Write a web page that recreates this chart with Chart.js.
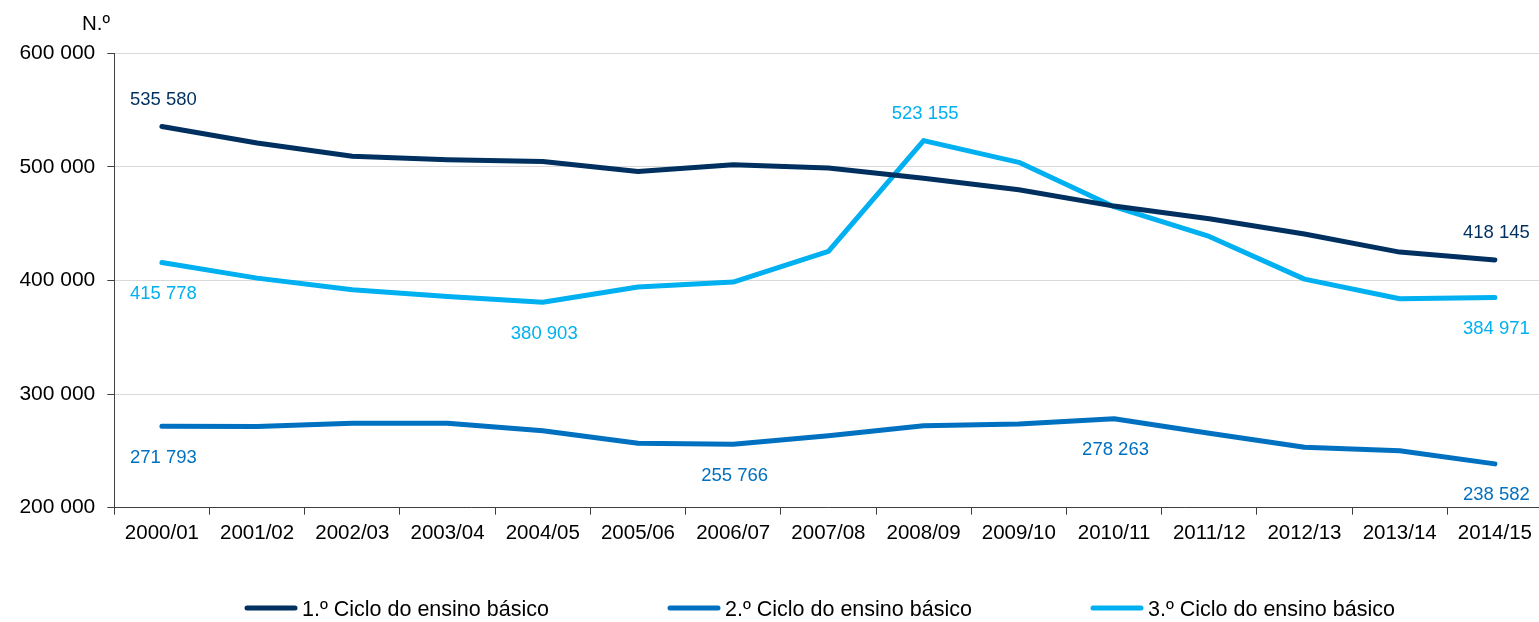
<!DOCTYPE html>
<html>
<head>
<meta charset="utf-8">
<script src="https://cdn.jsdelivr.net/npm/chart.js@4/dist/chart.umd.min.js"></script>
<style>
  html, body { margin: 0; padding: 0; background: #fff; overflow: hidden; }
  #wrap { width: 1545px; height: 622px; }
</style>
</head>
<body>
<div id="wrap"><canvas id="c" width="1545" height="622"></canvas></div>
<script>
const categories = ['2000/01','2001/02','2002/03','2003/04','2004/05','2005/06','2006/07','2007/08','2008/09','2009/10','2010/11','2011/12','2012/13','2013/14','2014/15'];
const ciclo1 = [535580, 521100, 509300, 506300, 504800, 496000, 501900, 499000, 490000, 479900, 465500, 454400, 440900, 425000, 418145];
const ciclo2 = [271793, 271400, 274400, 274400, 267800, 256700, 255766, 263400, 272200, 273700, 278263, 265500, 253200, 250200, 238582];
const ciclo3 = [415778, 402100, 391800, 386000, 380903, 394200, 398600, 425600, 523155, 504000, 465000, 438800, 401200, 383900, 384971];
const seriesNames = ['1.º Ciclo do ensino básico', '2.º Ciclo do ensino básico', '3.º Ciclo do ensino básico'];
const yTicks = [200000, 300000, 400000, 500000, 600000];
// labelled points: [index, 'above'|'below']
const labels1 = [[0,'above'],[14,'above']];
const labels2 = [[0,'below'],[6,'below'],[10,'below'],[14,'below']];
const labels3 = [[0,'below'],[4,'below'],[8,'above'],[14,'below']];

const colors = ['#00305F', '#0070C0', '#00B0F0'];
const FONT = '"Liberation Sans", Arial, sans-serif';

function fmt(v) {
  return String(Math.round(v)).replace(/\B(?=(\d{3})+(?!\d))/g, ' ');
}

const labelPlugin = {
  id: 'pointLabels',
  afterDatasetsDraw(chart) {
    const ctx = chart.ctx;
    const specs = [labels1, labels2, labels3];
    ctx.save();
    ctx.font = '18.5px ' + FONT;
    ctx.textAlign = 'center';
    ctx.textBaseline = 'alphabetic';
    specs.forEach((spec, di) => {
      const meta = chart.getDatasetMeta(di);
      const data = chart.data.datasets[di].data;
      ctx.fillStyle = colors[di];
      spec.forEach(([idx, pos]) => {
        const pt = meta.data[idx];
        const cy = pos === 'above' ? pt.y - 28.5 : pt.y + 30;
        ctx.fillText(fmt(data[idx]), pt.x + 1.5, cy + 6.6);
      });
    });
    ctx.restore();
  }
};

const extrasPlugin = {
  id: 'extras',
  afterDraw(chart) {
    const ctx = chart.ctx;
    ctx.save();
    // axis unit
    ctx.font = '20.5px ' + FONT;
    ctx.fillStyle = '#000';
    ctx.textAlign = 'left';
    ctx.textBaseline = 'alphabetic';
    ctx.fillText('N.º', 82, 29.5);
    // legend
    const lineLen = 52, gapLine = 5, stride = 423, y = 608;
    ctx.font = '21.5px ' + FONT;
    const ca = chart.chartArea;
    let x = ca.left + 130.7;
    chart.data.datasets.forEach((ds, i) => {
      ctx.strokeStyle = ds.borderColor;
      ctx.lineWidth = 5;
      ctx.lineCap = 'round';
      ctx.beginPath();
      ctx.moveTo(x + 2, y);
      ctx.lineTo(x + lineLen - 2, y);
      ctx.stroke();
      ctx.fillStyle = '#000';
      ctx.textBaseline = 'alphabetic';
      ctx.fillText(ds.label, x + lineLen + gapLine, y + 7.7);
      x += stride;
    });
    ctx.restore();
  }
};

const datasets = [ciclo1, ciclo2, ciclo3].map((d, i) => ({
  label: seriesNames[i],
  data: d,
  borderColor: colors[i],
  backgroundColor: colors[i],
  borderWidth: 5,
  pointRadius: 0,
  pointHoverRadius: 0,
  tension: 0,
  borderCapStyle: 'round',
  borderJoinStyle: 'round',
  fill: false
}));

new Chart(document.getElementById('c'), {
  type: 'line',
  data: { labels: categories, datasets: datasets },
  options: {
    responsive: false,
    animation: false,
    events: [],
    layout: { padding: { left: 0, right: 2.5, top: 53.3, bottom: 0 } },
    plugins: {
      legend: { display: false },
      tooltip: { enabled: false },
      title: { display: false }
    },
    scales: {
      x: {
        offset: true,
        afterFit(scale) { scale.height = 114.3; },
        grid: {
          offset: true,
          drawOnChartArea: false,
          drawTicks: true,
          tickLength: 7,
          tickColor: '#404040',
          color: '#404040'
        },
        border: { display: true, color: '#404040', width: 1 },
        ticks: {
          color: '#000',
          font: { family: FONT, size: 20.5 },
          padding: 6,
          maxRotation: 0,
          autoSkip: false
        }
      },
      y: {
        min: 200000,
        max: 600000,
        afterFit(scale) { scale.width = 114.3; },
        afterBuildTicks(scale) { scale.ticks = yTicks.map(v => ({ value: v })); },
        grid: {
          color: '#d9d9d9',
          lineWidth: 1,
          drawTicks: true,
          tickLength: 7,
          tickColor: '#404040'
        },
        border: { display: true, color: '#404040', width: 1 },
        ticks: {
          color: '#000',
          font: { family: FONT, size: 21 },
          padding: 12,
          callback: v => fmt(v)
        }
      }
    }
  },
  plugins: [labelPlugin, extrasPlugin]
});
</script>
</body>
</html>
